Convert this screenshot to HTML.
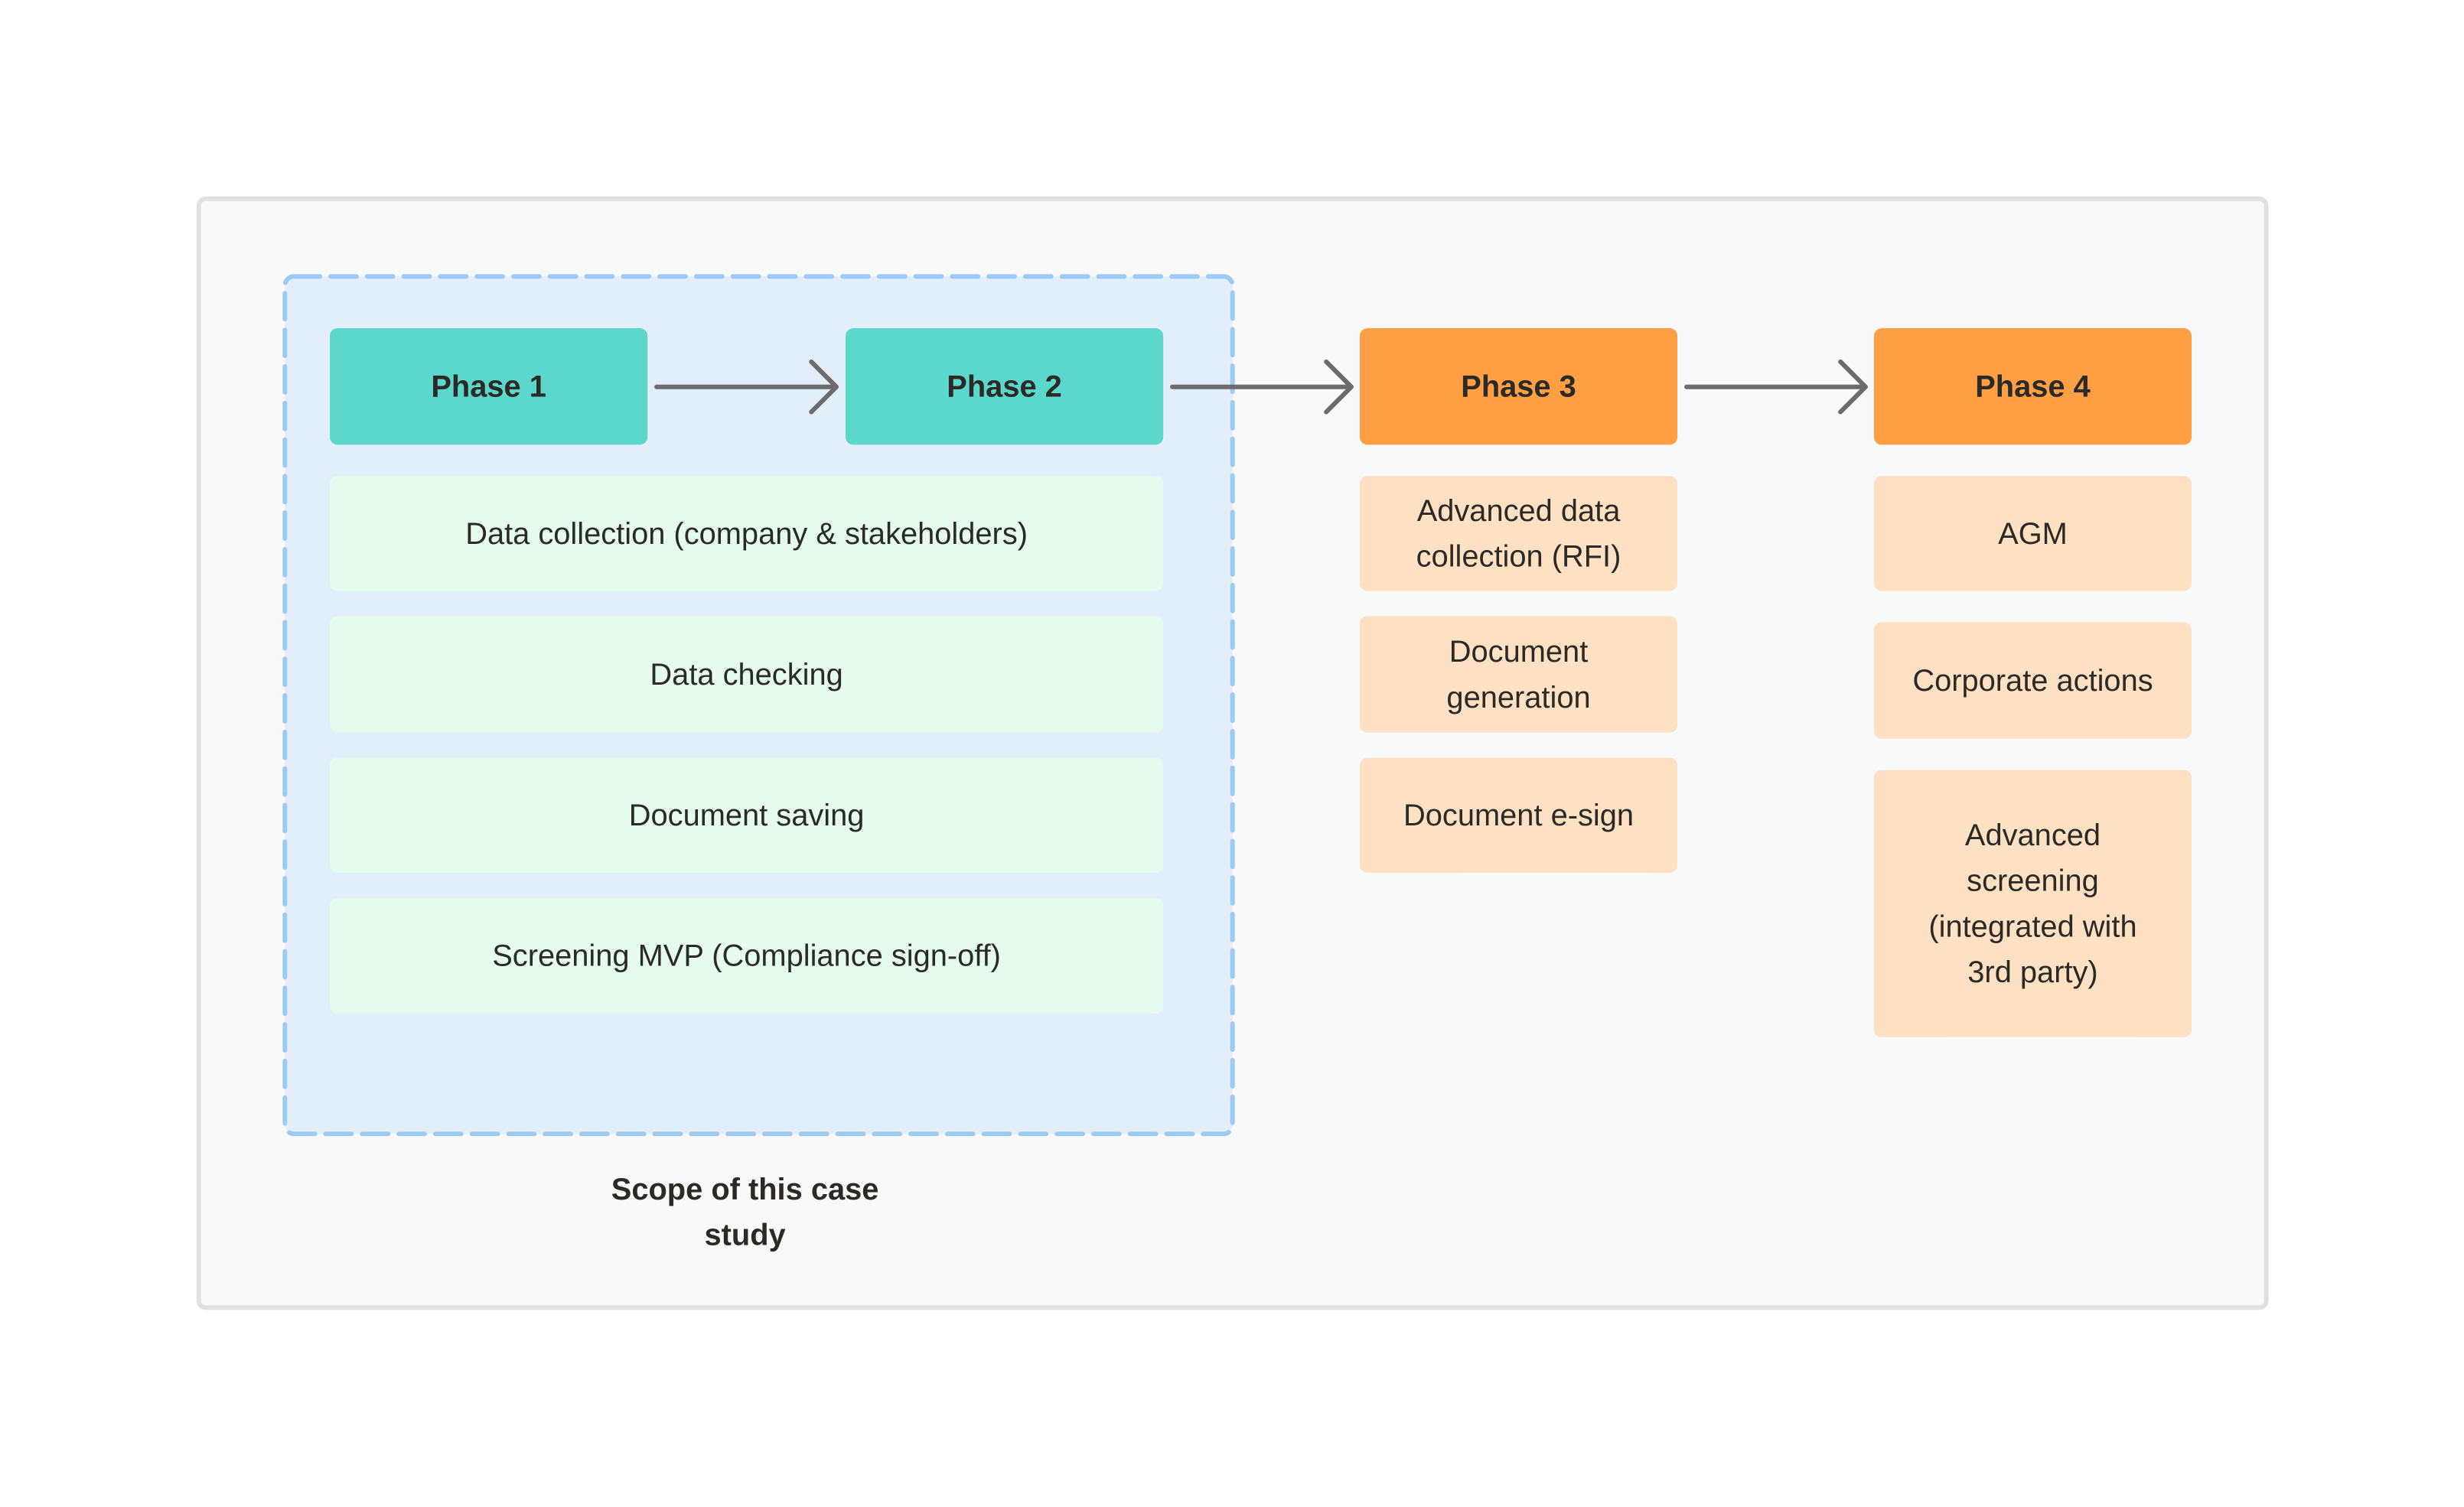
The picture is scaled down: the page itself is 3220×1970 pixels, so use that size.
<!DOCTYPE html>
<html><head><meta charset="utf-8"><style>
html,body{margin:0;padding:0;}
body{width:3220px;height:1970px;background:#fff;position:relative;overflow:hidden;font-family:"Liberation Sans",sans-serif;color:#2b2a26;}
#w{position:absolute;left:0;top:0;width:3220px;height:1970px;transform:scale(0.9955);transform-origin:0 0;}
.b{position:absolute;display:flex;align-items:center;justify-content:center;text-align:center;border-radius:10px;font-size:40px;line-height:60px;box-sizing:border-box;padding:0 30px;}
.ph{font-weight:bold;font-size:40px;}
.t{background:#5bd8cb;}
.o{background:#fe9f43;}
.g{background:#e4fbee;}
.p{background:#fee0c2;}
</style></head><body><div id="w">
<div style="position:absolute;left:258px;top:258px;width:2720px;height:1462px;box-sizing:border-box;border:6px solid #e0e0e0;border-radius:12px;background:#f9f9f9;"></div>
<svg style="position:absolute;left:0;top:0" width="3220" height="1970">
<rect x="374" y="363" width="1244" height="1126" rx="12" fill="#e2effa" stroke="#9bcbf3" stroke-width="6" stroke-dasharray="34 14" stroke-linecap="round"/>
<g stroke="#6c6c6c" stroke-width="6" fill="none" stroke-linecap="round" stroke-linejoin="round">
<line x1="862" y1="508" x2="1096" y2="508"/><polyline points="1065,475 1098,508 1065,541"/>
<line x1="1539" y1="508" x2="1772" y2="508"/><polyline points="1741,475 1774,508 1741,541"/>
<line x1="2214" y1="508" x2="2447" y2="508"/><polyline points="2416,475 2449,508 2416,541"/>
</g>
</svg>
<div class="b t ph" style="left:433px;top:431px;width:417px;height:153px;">Phase 1</div>
<div class="b t ph" style="left:1110px;top:431px;width:417px;height:153px;">Phase 2</div>
<div class="b o ph" style="left:1785px;top:431px;width:417px;height:153px;">Phase 3</div>
<div class="b o ph" style="left:2460px;top:431px;width:417px;height:153px;">Phase 4</div>

<div class="b g" style="left:433px;top:625px;width:1094px;height:151px;">Data collection (company &amp; stakeholders)</div>
<div class="b g" style="left:433px;top:809px;width:1094px;height:153px;">Data checking</div>
<div class="b g" style="left:433px;top:995px;width:1094px;height:151px;">Document saving</div>
<div class="b g" style="left:433px;top:1179px;width:1094px;height:152px;">Screening MVP (Compliance sign-off)</div>

<div class="b p" style="left:1785px;top:625px;width:417px;height:151px;">Advanced data collection (RFI)</div>
<div class="b p" style="left:1785px;top:809px;width:417px;height:153px;">Document generation</div>
<div class="b p" style="left:1785px;top:995px;width:417px;height:151px;">Document e-sign</div>

<div class="b p" style="left:2460px;top:625px;width:417px;height:151px;">AGM</div>
<div class="b p" style="left:2460px;top:817px;width:417px;height:153px;">Corporate actions</div>
<div class="b p" style="left:2460px;top:1011px;width:417px;height:351px;padding:0 50px;">Advanced screening (integrated with 3rd party)</div>

<div style="position:absolute;left:728px;top:1532px;width:500px;text-align:center;font-weight:bold;font-size:40px;line-height:60px;">Scope of this case<br>study</div>
</div></body></html>
